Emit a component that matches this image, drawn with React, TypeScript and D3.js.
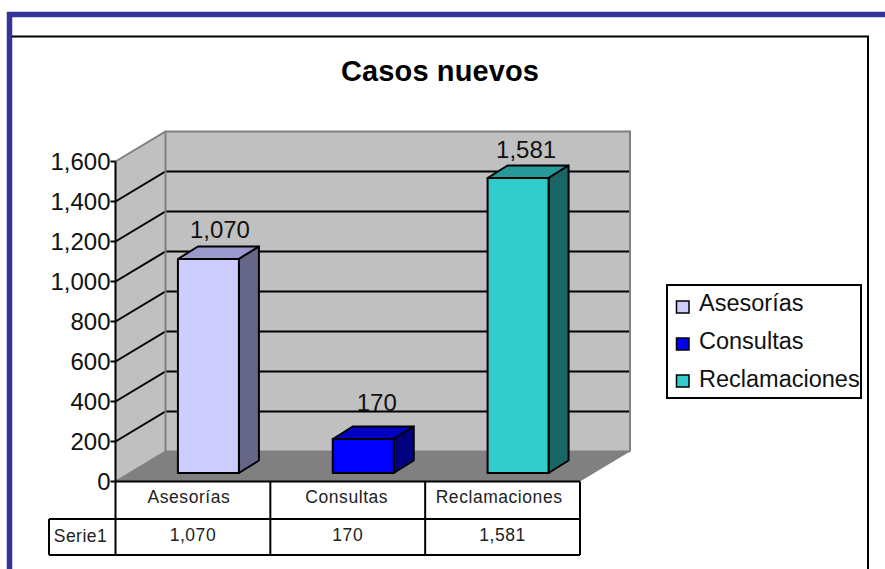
import React from "react";
import * as d3 from "d3";

const title = "Casos nuevos";
const categories = ["Asesorías", "Consultas", "Reclamaciones"];
const values = [1070, 170, 1581];
// Height the bars are actually drawn at in the picture; the third bar is drawn shorter than its label.
const drawnValues = [1070, 170, 1475];
const yTicks = [0, 200, 400, 600, 800, 1000, 1200, 1400, 1600];
const seriesName = "Serie1";
const fronts = ["#CCCCFF", "#0000FF", "#33CCCC"];
const tops = ["#9999CC", "#0000C0", "#289999"];
const sides = ["#666688", "#000080", "#1A6666"];

const fmt = d3.format(",");
const FONT = "'Liberation Sans', Arial, sans-serif";
const WALL = "#C0C0C0";
const EDGE = "#808080";

const y = d3.scaleLinear().domain([0, 1600]).range([481.5, 161.5]);
const x = d3.scaleBand<string>().domain(categories).range([115.5, 580]);
const DX = 50, DY = 30;
const BAR_W = 61, BAR_DX = 20, BAR_DY = 12.5, BAR_SHIFT = 15.5, BAR_BASE = 8.5;
const labelGap = [9, 16, 8];
const labelShift = [11.5, 13.5, 8];
const catShift = [-4, -1, -3.5];
const pts = (p: number[][]) => p.map((d) => d.join(",")).join(" ");
const legendY = [307, 344, 381];
const legendBase = [311, 349, 387];
const rowY = [481.5, 519, 555];
const tableRight = 580, tableLeft = 49;

export default function App() {
  const x0 = x.range()[0], x1 = x.range()[1];
  const y0 = y(0), yT = y(1600);
  return (
    <svg width={885} height={569} style={{ position: "fixed", left: 0, top: 0, background: "#fff" }} fontFamily={FONT}>
      <rect width={885} height={569} fill="#fff" />
      {/* outer frames */}
      <path d={`M9.5,569V14.5H885`} fill="none" stroke="#333399" strokeWidth={5.5} />
      <path d={`M12,36.5H868V569`} fill="none" stroke="#000" strokeWidth={2} />
      <text x={440} y={81} textAnchor="middle" fontSize={29} fontWeight={700} textLength={198} fill="#000">{title}</text>

      {/* walls */}
      <polygon points={pts([[x0, yT], [x0 + DX, yT - DY], [x0 + DX, y0 - DY], [x0, y0]])} fill={WALL} />
      <polygon points={pts([[x0 + DX, yT - DY], [x1 + DX, yT - DY], [x1 + DX, y0 - DY], [x0 + DX, y0 - DY]])} fill={WALL} />
      {yTicks.filter((t) => t > 0 && t < 1600).map((t) => (
        <path key={t} d={`M${x0},${y(t)}L${x0 + DX},${y(t) - DY}H${x1 + DX}`} fill="none" stroke="#000" strokeWidth={2} />
      ))}
      <polygon points={pts([[x0, y0], [x0 + DX, y0 - DY], [x1 + DX, y0 - DY], [x1, y0]])} fill={EDGE} />
      <path d={`M${x0},${yT}L${x0 + DX},${yT - DY}H${x1 + DX}V${y0 - DY}`} fill="none" stroke={EDGE} strokeWidth={2} />
      <path d={`M${x0 + DX},${yT - DY}V${y0 - DY}H${x1 + DX}`} fill="none" stroke={EDGE} strokeWidth={2} />
      <path d={`M${x0},${y0}L${x0 + DX},${y0 - DY}`} stroke={EDGE} strokeWidth={1.5} />

      {/* bars */}
      {categories.map((c, i) => {
        const l = x(c)! + x.bandwidth() / 2 + BAR_SHIFT - BAR_W / 2;
        const r = l + BAR_W;
        const b = y0 - BAR_BASE;
        const t = b - (y0 - y(drawnValues[i]));
        const st = { stroke: "#000", strokeWidth: 2, strokeLinejoin: "round" as const };
        return (
          <g key={c}>
            <polygon points={pts([[l, t], [l + BAR_DX, t - BAR_DY], [r + BAR_DX, t - BAR_DY], [r, t]])} fill={tops[i]} {...st} />
            <polygon points={pts([[r, t], [r + BAR_DX, t - BAR_DY], [r + BAR_DX, b - BAR_DY], [r, b]])} fill={sides[i]} {...st} />
            <rect x={l} y={t} width={BAR_W} height={b - t} fill={fronts[i]} {...st} />
            <text x={(l + r) / 2 + labelShift[i]} y={t - BAR_DY - labelGap[i]} textAnchor="middle" fontSize={24} fill="#111">{fmt(values[i])}</text>
          </g>
        );
      })}

      {/* y axis */}
      <path d={`M${x0},${yT}V${y0}`} stroke="#000" strokeWidth={2} />
      {yTicks.map((t) => (
        <g key={t}>
          <line x1={x0 - 5} x2={x0} y1={y(t)} y2={y(t)} stroke="#000" strokeWidth={2} />
          <text x={x0 - 5} y={y(t) + 8} textAnchor="end" fontSize={24} fill="#111">{fmt(t)}</text>
        </g>
      ))}

      {/* data table */}
      <path d={`M${x0},${rowY[0]}H${tableRight}M${tableLeft},${rowY[1]}H${tableRight}M${tableLeft},${rowY[2]}H${tableRight}`} stroke="#000" strokeWidth={2} fill="none" />
      <path d={`M${tableLeft},${rowY[1]}V${rowY[2]}M${x0},${rowY[0]}V${rowY[2]}`} stroke="#000" strokeWidth={2} fill="none" />
      {categories.map((c) => (
        <line key={c} x1={x(c)! + x.bandwidth()} x2={x(c)! + x.bandwidth()} y1={rowY[0]} y2={rowY[2]} stroke="#000" strokeWidth={2} />
      ))}
      <text x={80.5} y={542} textAnchor="middle" fontSize={17.5} fill="#222" letterSpacing={0.5}>{seriesName}</text>
      {categories.map((c, i) => (
        <g key={c} fontSize={17.5} textAnchor="middle" fill="#222" letterSpacing={0.55}>
          <text x={x(c)! + x.bandwidth() / 2 + catShift[i]} y={503}>{c}</text>
          <text x={x(c)! + x.bandwidth() / 2} y={541}>{fmt(values[i])}</text>
        </g>
      ))}

      {/* legend */}
      <rect x={667} y={285} width={194} height={113} fill="#fff" stroke="#000" strokeWidth={2} />
      {categories.map((c, i) => (
        <g key={c}>
          <rect x={676.5} y={legendY[i] - 6} width={12.5} height={12} fill={fronts[i]} stroke="#000" strokeWidth={1.5} />
          <text x={699} y={legendBase[i]} fontSize={23.5} fill="#111">{c}</text>
        </g>
      ))}
    </svg>
  );
}
